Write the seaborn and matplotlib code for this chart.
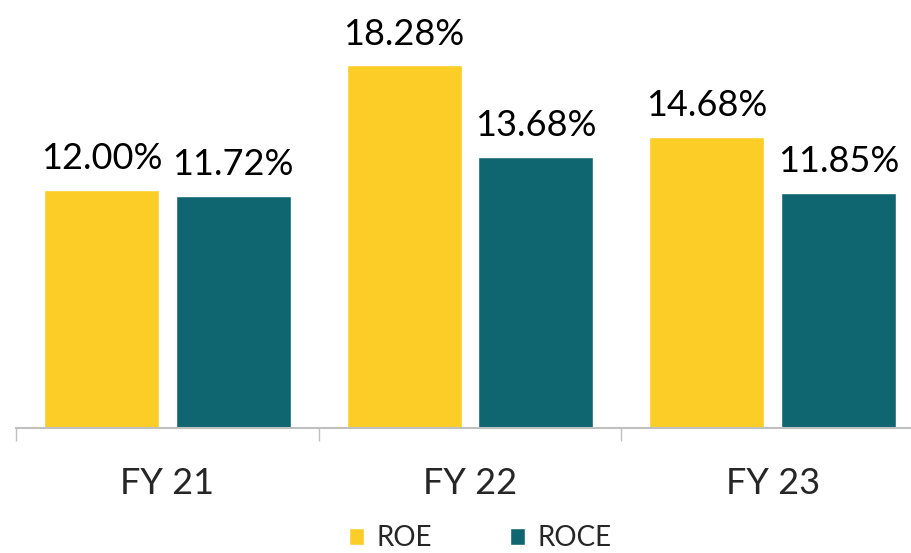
import matplotlib
matplotlib.use("Agg")
import matplotlib.pyplot as plt
import seaborn as sns
import pandas as pd
from matplotlib.patches import Patch

years = ["FY 21", "FY 22", "FY 23"]
roe = [12.00, 18.28, 14.68]
roce = [11.72, 13.68, 11.85]
series = ["ROE", "ROCE"]
colors = ["#FBCD26", "#0F6670"]

df = pd.DataFrame({
    "year": years * 2,
    "metric": ["ROE"] * 3 + ["ROCE"] * 3,
    "value": roe + roce,
})

sns.set_theme(style="white")
plt.rcParams["font.family"] = ["Lato", "DejaVu Sans"]

fig = plt.figure(figsize=(9.12, 5.53), dpi=100)
W, H = 912, 553
ax = fig.add_axes([16 / W, 125 / H, (924 - 16) / W, 428 / H])

sns.barplot(data=df, x="year", y="value", hue="metric", hue_order=series,
            palette=colors, width=0.871, gap=0.128, dodge=True,
            saturation=1, legend=False, ax=ax, errorbar=None)

ax.set_xlim(-0.5, 2.5)
ax.set_ylim(0, 21.58)

for container in ax.containers:
    for bar in container:
        v = bar.get_height()
        ax.annotate(f"{v:.2f}%", (bar.get_x() + bar.get_width() / 2, v),
                    xytext=(0, 15), textcoords="offset points",
                    ha="center", va="baseline", fontsize=26, color="black")

for s in ["top", "right", "left"]:
    ax.spines[s].set_visible(False)
ax.spines["bottom"].set_color("#BFBFBF")
ax.spines["bottom"].set_linewidth(1.5)
ax.set_yticks([])
ax.set_xlabel("")
ax.set_ylabel("")

ax.set_xticks(range(len(years)))
ax.set_xticklabels(years, fontsize=26)
ax.tick_params(axis="x", which="major", length=0, pad=28)
ax.set_xticks([-0.5, 0.5, 1.5, 2.5], minor=True)
ax.tick_params(axis="x", which="minor", length=9, width=1, color="#BFBFBF",
               direction="out", bottom=True)

handles = [Patch(facecolor=c, label=s) for c, s in zip(colors, series)]
fig.legend(handles=handles, loc="center", bbox_to_anchor=(480 / W, 1 - 538 / H),
           ncol=2, frameon=False, fontsize=20, handlelength=0.55,
           handleheight=0.55, handletextpad=0.45, columnspacing=2.8)

fig.savefig("out.png", dpi=100)
